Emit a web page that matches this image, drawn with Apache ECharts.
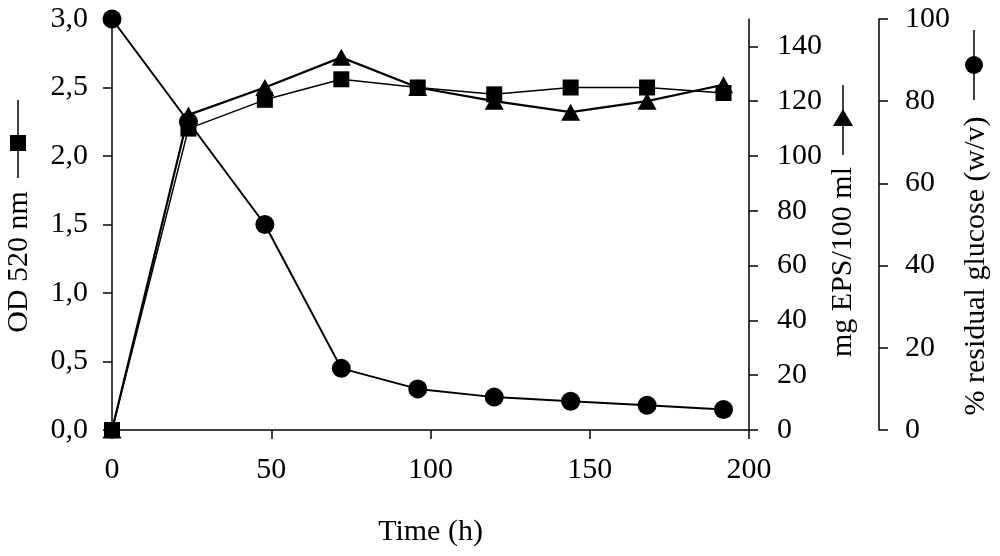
<!DOCTYPE html>
<html>
<head>
<meta charset="utf-8">
<script src="https://cdn.jsdelivr.net/npm/echarts@6/dist/echarts.min.js"></script>
<style>
html,body{margin:0;padding:0;background:#fff;}
#c{width:1000px;height:556px;}
</style>
</head>
<body>
<div id="c"></div>
<script>
var timeH = [0, 24, 48, 72, 96, 120, 144, 168, 192];
var od520 = [0, 2.20, 2.41, 2.56, 2.50, 2.45, 2.50, 2.50, 2.46];
var epsMg = [0, 115, 125, 136, 125, 120, 116, 120, 126];
var glucose = [100, 75, 50, 15, 10, 8, 7, 6, 5];
var xTicks = [0, 50, 100, 150, 200];
var epsTicks = [0, 20, 40, 60, 80, 100, 120, 140];

var FONT = 'Liberation Serif';
var FS = 30;

function pairs(xs, ys) { return xs.map(function (x, i) { return [x, ys[i]]; }); }

var chart = echarts.init(document.getElementById('c'), null, {renderer: 'canvas'});
var axisLine = {show: true, lineStyle: {color: '#000', width: 1.5}};
var tickStyle = {show: true, length: 9, inside: false, lineStyle: {color: '#000', width: 1.5}};
var lbl = {color: '#000', fontFamily: FONT, fontSize: FS};

chart.setOption({
  animation: false,
  backgroundColor: '#fff',
  grid: {left: 112, right: 251, top: 19, bottom: 126, containLabel: false},
  xAxis: {
    type: 'value', min: 0, max: 200, interval: 50,
    name: 'Time (h)', nameLocation: 'middle', nameGap: 87,
    nameTextStyle: {color: '#000', fontFamily: FONT, fontSize: FS},
    axisLine: axisLine, axisTick: tickStyle,
    axisLabel: Object.assign({margin: 25, customValues: xTicks}, lbl),
    splitLine: {show: false}
  },
  yAxis: [
    {
      type: 'value', position: 'left', min: 0, max: 3, interval: 0.5,
      axisLine: axisLine, axisTick: tickStyle,
      axisLabel: Object.assign({margin: 24, formatter: function (v) { return v.toFixed(1).replace('.', ','); }}, lbl),
      splitLine: {show: false}
    },
    {
      type: 'value', position: 'right', min: 0, max: 150,
      axisLine: axisLine,
      axisTick: Object.assign({customValues: epsTicks}, tickStyle),
      axisLabel: Object.assign({margin: 28, customValues: epsTicks}, lbl),
      splitLine: {show: false}
    },
    {
      type: 'value', position: 'right', offset: 130, min: 0, max: 100, interval: 20,
      axisLine: axisLine, axisTick: tickStyle,
      axisLabel: Object.assign({margin: 26}, lbl),
      splitLine: {show: false}
    }
  ],
  series: [
    {
      name: '% residual glucose (w/v)', type: 'line', yAxisIndex: 2,
      data: pairs(timeH, glucose),
      symbol: 'circle', symbolSize: 19,
      lineStyle: {color: '#000', width: 2}, itemStyle: {color: '#000'}, z: 2
    },
    {
      name: 'OD 520 nm', type: 'line', yAxisIndex: 0,
      data: pairs(timeH, od520),
      symbol: 'rect', symbolSize: 16,
      lineStyle: {color: '#000', width: 1.5}, itemStyle: {color: '#000'}, z: 3
    },
    {
      name: 'mg EPS/100 ml', type: 'line', yAxisIndex: 1,
      data: pairs(timeH, epsMg),
      symbol: 'triangle', symbolSize: [19, 17],
      lineStyle: {color: '#000', width: 2.2}, itemStyle: {color: '#000'}, z: 4
    }
  ],
  graphic: [
    {type: 'text', x: 19, y: 262, rotation: Math.PI / 2,
      style: {text: 'OD 520 nm', font: FS + 'px "' + FONT + '"', fill: '#000', align: 'center', verticalAlign: 'middle'}},
    {type: 'line', shape: {x1: 18, y1: 100, x2: 18, y2: 178}, style: {stroke: '#000', lineWidth: 1.5}},
    {type: 'rect', shape: {x: 10, y: 135, width: 16, height: 16}, style: {fill: '#000'}},

    {type: 'text', x: 843, y: 262, rotation: Math.PI / 2,
      style: {text: 'mg EPS/100 ml', font: FS + 'px "' + FONT + '"', fill: '#000', align: 'center', verticalAlign: 'middle'}},
    {type: 'line', shape: {x1: 843, y1: 85, x2: 843, y2: 155}, style: {stroke: '#000', lineWidth: 1.5}},
    {type: 'polygon', shape: {points: [[843, 109], [853, 126], [833, 126]]}, style: {fill: '#000'}},

    {type: 'text', x: 976, y: 266, rotation: Math.PI / 2,
      style: {text: '% residual glucose (w/v)', font: FS + 'px "' + FONT + '"', fill: '#000', align: 'center', verticalAlign: 'middle'}},
    {type: 'line', shape: {x1: 974, y1: 30, x2: 974, y2: 100}, style: {stroke: '#000', lineWidth: 1.5}},
    {type: 'circle', shape: {cx: 974, cy: 65, r: 9}, style: {fill: '#000'}}
  ]
});
</script>
</body>
</html>
